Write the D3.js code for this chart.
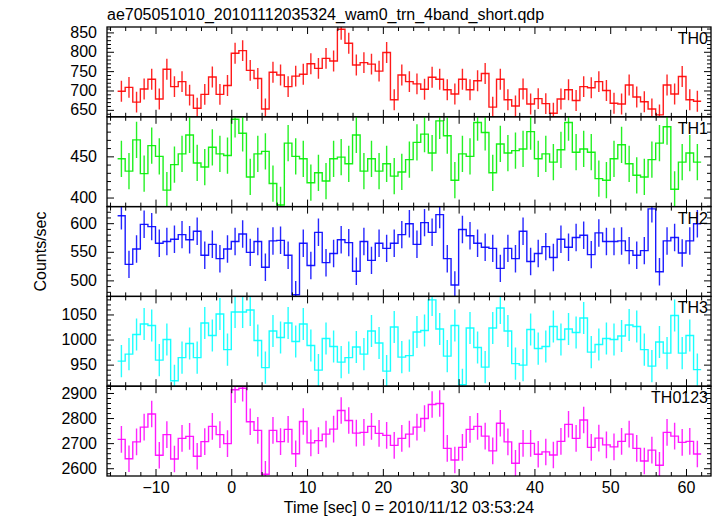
<!DOCTYPE html>
<html><head><meta charset="utf-8">
<script src="https://cdn.jsdelivr.net/npm/d3@7"></script>
<style>
body{margin:0;background:#fff}
svg{display:block}
text{font-family:"Liberation Sans",Arial,Helvetica,sans-serif;fill:#000}
</style>
</head><body><svg id="c" width="717" height="516"></svg>
<script>
// ---- data ----
const titleText = "ae705051010_20101112035324_wam0_trn_4band_short.qdp";
const xTitle = "Time [sec] 0 = 2010/11/12 03:53:24";
const yTitle = "Counts/sec";
const binLeft = [-15,-14,-13,-12,-11,-10,-9,-8,-7,-6,-5,-4,-3,-2,-1,0,1,2,3,4,5,6,7,8,9,10,11,12,13,14,15,16,17,18,19,20,21,22,23,24,25,26,27,28,29,30,31,32,33,34,35,36,37,38,39,40,41,42,43,44,45,46,47,48,49,50,51,52,53,54,55,56,57,58,59,60,61];
const binWidth = 1;
const th0 = [698,708,670,704,729,678,755,710,723,688,654,690,735,690,713,796,803,752,731,652,747,740,710,737,742,769,757,783,776,858,822,766,772,768,750,798,676,740,723,717,703,734,729,702,691,729,702,725,744,657,729,676,660,704,665,679,666,641,678,702,674,710,707,723,700,667,665,714,683,671,652,637,714,691,736,676,672];
const th1 = [447,432,470,429,463,450,409,440,453,476,442,437,461,453,451,495,478,425,453,456,417,391,466,450,447,418,430,420,447,449,441,476,432,447,432,441,426,431,446,467,477,454,493,475,421,453,450,491,479,430,465,454,457,459,480,447,453,443,458,491,455,459,455,423,421,447,464,441,427,425,446,466,486,410,443,454,443];
const th2 = [613,528,555,598,594,565,568,572,580,571,586,544,563,538,555,568,581,549,568,523,569,570,544,475,565,526,584,531,547,571,566,516,568,535,565,556,565,580,599,563,601,584,615,538,492,589,578,565,558,556,521,556,538,586,533,547,559,540,572,558,575,579,545,583,568,568,569,552,544,552,625,515,569,575,548,569,599];
const th3 = [957,971,1010,1031,1028,959,1000,918,964,992,964,1033,1008,1051,980,1055,1055,1059,998,944,1017,1004,1033,996,1031,988,939,1002,986,955,964,985,971,1017,993,937,1025,965,968,1015,1018,1079,1021,967,1028,910,1023,984,945,1023,1063,1017,952,949,1020,982,986,1026,1000,1021,1014,1043,975,990,1002,1000,1007,1029,1026,980,947,995,973,1048,973,1008,940];
const th0123 = [2715,2638,2705,2764,2816,2652,2734,2637,2719,2727,2648,2706,2767,2734,2698,2913,2919,2785,2751,2576,2751,2706,2755,2658,2786,2701,2710,2736,2756,2830,2790,2740,2743,2767,2739,2731,2691,2719,2736,2764,2798,2854,2858,2679,2633,2683,2755,2767,2728,2669,2779,2705,2620,2699,2699,2656,2665,2653,2707,2775,2719,2792,2683,2720,2693,2685,2707,2736,2679,2629,2672,2612,2743,2728,2703,2707,2657];
const errTH = [27,22,24,32,53];          // approx. 1-sigma error per band (counts/sec)
const panelNames = ["TH0","TH1","TH2","TH3","TH0123"];
const panelSeries = [th0,th1,th2,th3,th0123];
const yDomains = [[632,864],[389,498],[472,629],[907,1086],[2569,2927]];
const yMajorTicks = [[650,700,750,800,850],[400,450],[500,550,600],[950,1000,1050],[2600,2700,2800,2900]];
const yMinorStep = [10,10,10,10,20];
const xDomain = [-16.4,63.3];
const xMajorTicks = [-10,0,10,20,30,40,50,60];
const xMinorStep = 2;

// ---- styles / layout ----
const colors = ["#ff0000","#00ee00","#0000ff","#00ffff","#ff00ff"];
const L=107, R=711, T=27, B=476;
const nP = panelSeries.length, ph=(B-T)/nP;
const svg = d3.select("#c");
svg.append("rect").attr("width",717).attr("height",516).attr("fill","#fff");

const x = d3.scaleLinear().domain(xDomain).range([L,R]);
const xMinor = d3.range(Math.ceil(xDomain[0]/xMinorStep)*xMinorStep, xDomain[1], xMinorStep).filter(v=>!xMajorTicks.includes(v));

const defs = svg.append("defs");
const fmt = d3.format("d");

panelSeries.forEach((vals,i)=>{
  const top = T + i*ph, bot = top+ph;
  const y = d3.scaleLinear().domain(yDomains[i]).range([bot, top]);
  const yMinor = d3.range(Math.ceil(yDomains[i][0]/yMinorStep[i])*yMinorStep[i], yDomains[i][1], yMinorStep[i]).filter(v=>!yMajorTicks[i].includes(v));
  const cid = "clip"+i;
  defs.append("clipPath").attr("id",cid).append("rect").attr("x",L).attr("y",top).attr("width",R-L).attr("height",ph);
  const g = svg.append("g");
  const data = vals.map((v,k)=>({t0:binLeft[k], t1:binLeft[k]+binWidth, v}));
  const pts = data.flatMap(d=>[[d.t0,d.v],[d.t1,d.v]]);
  const line = d3.line().x(d=>x(d[0])).y(d=>y(d[1]));
  const pg = g.append("g").attr("clip-path",`url(#${cid})`);
  pg.selectAll("line.err").data(data).join("line").attr("class","err")
    .attr("x1",d=>x((d.t0+d.t1)/2)).attr("x2",d=>x((d.t0+d.t1)/2))
    .attr("y1",d=>y(d.v-errTH[i])).attr("y2",d=>y(d.v+errTH[i]))
    .attr("stroke",colors[i]).attr("stroke-width",1.4).attr("stroke-opacity",0.85);
  pg.append("path").attr("d",line(pts)).attr("fill","none")
    .attr("stroke",colors[i]).attr("stroke-width",1.4).attr("stroke-opacity",0.9);

  // axes (ticks inward on all sides)
  const mk = (axis, vals, size, tx, ty, labels)=>{
    const a = axis.tickValues(vals).tickSize(-size);
    if(!labels) a.tickFormat(""); else a.tickFormat(fmt);
    const ag = g.append("g").attr("transform",`translate(${tx},${ty})`).call(a);
    ag.select(".domain").remove();
    ag.selectAll(".tick line").attr("stroke","#000").attr("stroke-width",1);
    return ag;
  };
  mk(d3.axisBottom(x), xMajorTicks, 7, 0, bot, false);
  mk(d3.axisBottom(x), xMinor, 4, 0, bot, false);
  mk(d3.axisTop(x), xMajorTicks, 7, 0, top, false);
  mk(d3.axisTop(x), xMinor, 4, 0, top, false);
  const la = mk(d3.axisLeft(y).tickPadding(10), yMajorTicks[i], 7, L, 0, true);
  la.selectAll("text").attr("font-size",16).attr("font-family",'"Liberation Sans",Arial,sans-serif');
  mk(d3.axisLeft(y), yMinor, 4, L, 0, false);
  mk(d3.axisRight(y), yMajorTicks[i], 7, R, 0, false);
  mk(d3.axisRight(y), yMinor, 4, R, 0, false);

  g.append("rect").attr("x",L).attr("y",top).attr("width",R-L).attr("height",ph)
    .attr("fill","none").attr("stroke","#000").attr("stroke-width",1.3);
  g.append("text").attr("x",R-3).attr("y",top+17).attr("text-anchor","end")
    .attr("font-size",16).text(panelNames[i]);
});

// bottom x labels
const xa = svg.append("g").attr("transform",`translate(0,${B})`)
  .call(d3.axisBottom(x).tickValues(xMajorTicks).tickSize(0).tickPadding(6));
xa.select(".domain").remove();
xa.selectAll("text").attr("font-size",16).attr("font-family",'"Liberation Sans",Arial,sans-serif');

svg.append("text").attr("x",L).attr("y",20).attr("font-size",16).text(titleText);
svg.append("text").attr("x",(L+R)/2).attr("y",513).attr("text-anchor","middle").attr("font-size",16).text(xTitle);
svg.append("text").attr("transform",`translate(46,${(T+B)/2}) rotate(-90)`).attr("text-anchor","middle").attr("font-size",16).text(yTitle);
</script>
</body></html>
